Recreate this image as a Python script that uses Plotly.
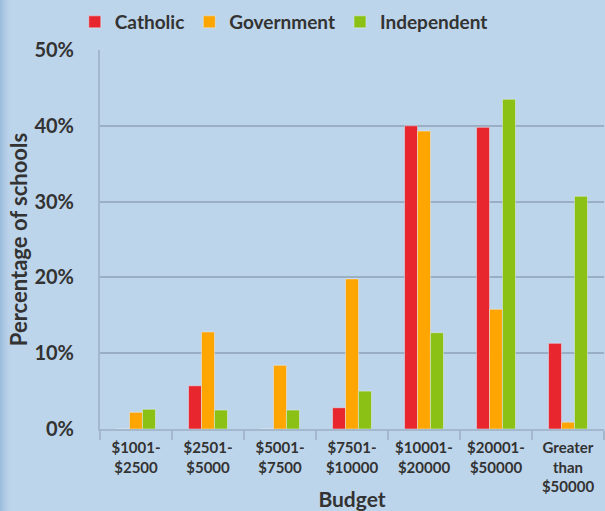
import plotly.graph_objects as go

categories = ["$1001-<br>$2500", "$2501-<br>$5000", "$5001-<br>$7500", "$7501-<br>$10000",
              "$10001-<br>$20000", "$20001-<br>$50000", "Greater<br>than<br>$50000"]
catholic = [0, 5.7, 0, 2.8, 40.0, 39.8, 11.3]
government = [2.2, 12.8, 8.4, 19.8, 39.3, 15.8, 0.9]
independent = [2.6, 2.5, 2.5, 5.0, 12.7, 43.5, 30.7]

FONT = "Lato"
TXT = "#333333"

fig = go.Figure()
fig.add_trace(go.Bar(name="Catholic", x=categories, y=catholic, marker_color="#E8262E"))
fig.add_trace(go.Bar(name="Government", x=categories, y=government, marker_color="#FFA500"))
fig.add_trace(go.Bar(name="Independent", x=categories, y=independent, marker_color="#8BC014"))

W, H = 605, 511
L, R, T, B = 100, 1, 50, 82
pw, ph = W - L - R, H - T - B

# subtle darker band on left edge
for i, op in enumerate([0.4, 0.28, 0.18, 0.1, 0.05]):
    fig.add_shape(type="rect", xref="paper", yref="paper",
                  x0=(-L + i * 2) / pw, x1=(-L + (i + 1) * 2) / pw,
                  y0=-B / ph, y1=1 + T / ph, fillcolor="#6E9CC9", opacity=op,
                  line_width=0, layer="below")

fig.update_layout(
    width=W, height=H,
    margin=dict(l=L, r=R, t=T, b=B, pad=0),
    paper_bgcolor="#BDD5EB", plot_bgcolor="#BDD5EB",
    barmode="group", bargap=0.46, bargroupgap=0,
    font=dict(family=FONT, color=TXT),
    showlegend=True,
    legend=dict(orientation="h", x=-0.05, y=1 + 9 / ph, xanchor="left", yanchor="bottom",
                font=dict(family=FONT, size=19, color=TXT, weight="bold"),
                itemwidth=30, bgcolor="rgba(0,0,0,0)"),
    xaxis=dict(
        title=dict(text="<b>Budget</b>", font=dict(size=21, family=FONT, color=TXT), standoff=0),
        tickfont=dict(size=15, family=FONT, color=TXT, weight="bold"),
        showline=True, linecolor="#A3B8CC", linewidth=2,
        ticks="outside", tickson="boundaries", ticklen=9, tickcolor="#A3B8CC", tickwidth=2,
        ticklabelstandoff=4,
        showgrid=False,
    ),
    yaxis=dict(
        title=dict(text="<b>Percentage of schools</b>", font=dict(size=22, family=FONT, color=TXT), standoff=1),
        range=[0, 50], dtick=10, ticksuffix="%",
        tickfont=dict(size=20, family=FONT, color=TXT, weight="bold"),
        showgrid=True, gridcolor="#9AAFC4", gridwidth=2,
        showline=True, linecolor="#A3B8CC", linewidth=2,
        zeroline=False, ticklen=20, ticks="outside", tickcolor="rgba(0,0,0,0)",
    ),
)

fig.write_html("out.html", config={"displayModeBar": False},
               post_script="document.body.style.margin='0';document.body.style.overflow='hidden';")
